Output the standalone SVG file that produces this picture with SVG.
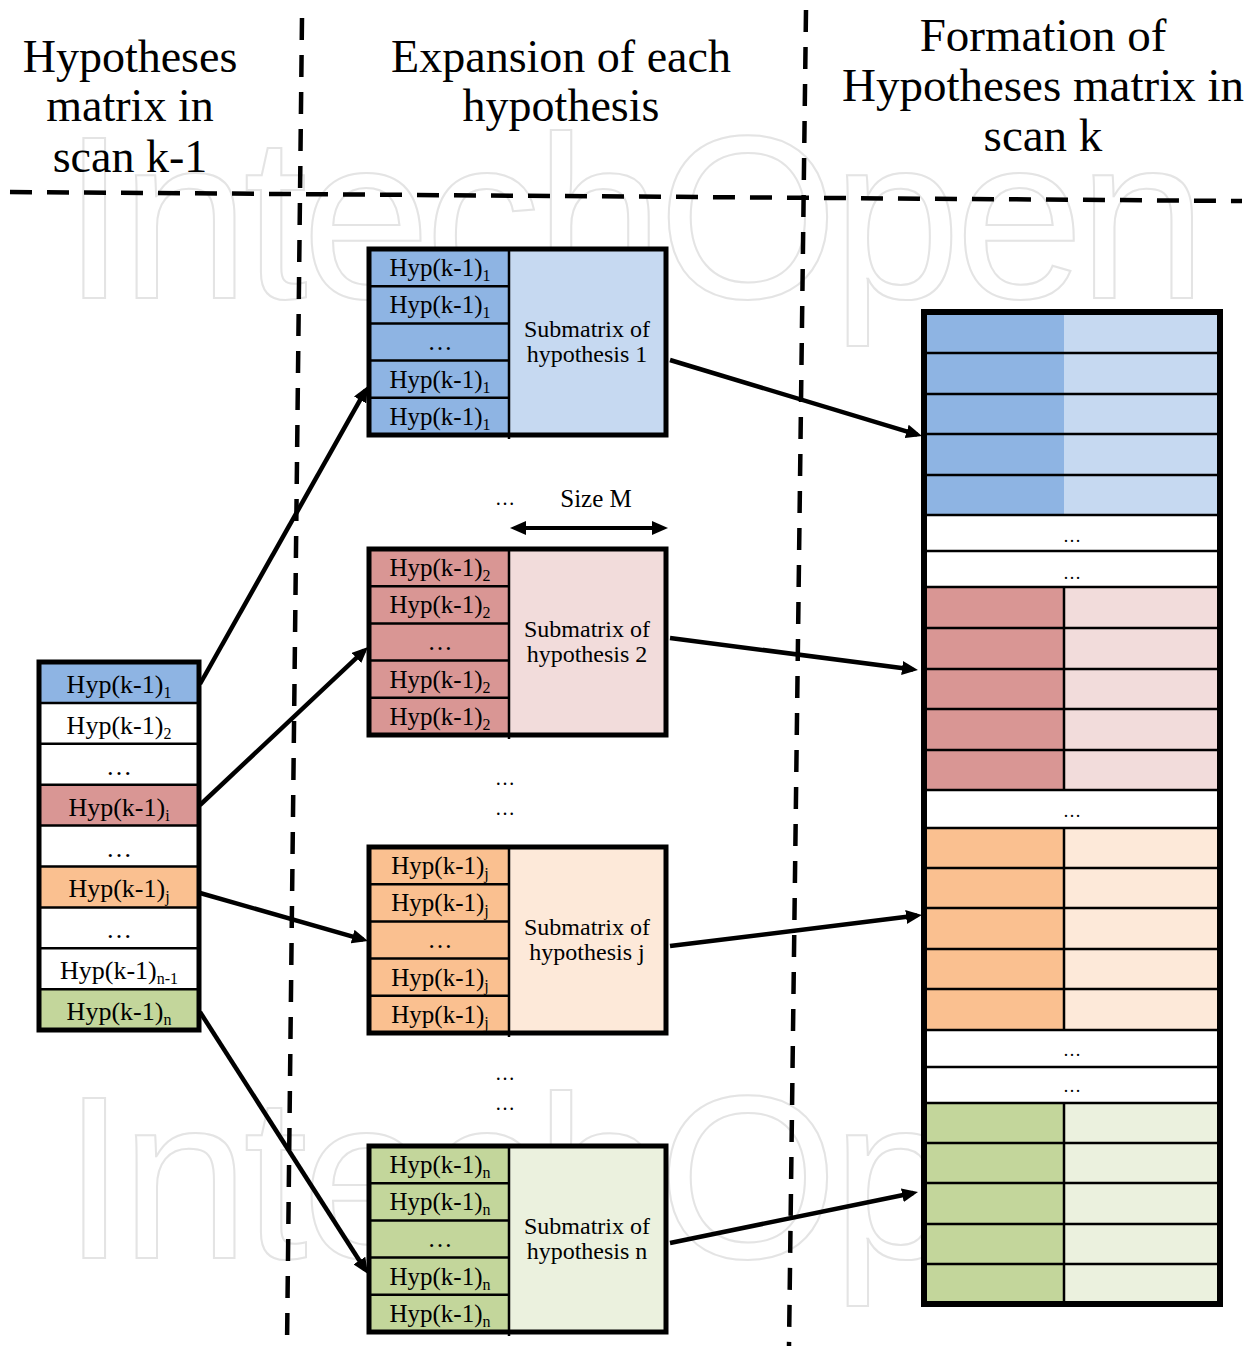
<svg xmlns="http://www.w3.org/2000/svg" width="1258" height="1346" viewBox="0 0 1258 1346">
<style>
.t{font-family:"Liberation Serif","Times New Roman",serif;fill:#000}
.hdr{font-size:46px;text-anchor:middle}
.cell{font-size:26px;text-anchor:middle}
.sub{font-size:16px}
.lbl{font-size:24px;text-anchor:middle}
.dots{font-size:20px;text-anchor:middle}
.rdots{font-size:18px;text-anchor:middle}
.border{fill:none;stroke:#000;stroke-width:5}
.grid{stroke:#000;stroke-width:2.5;fill:none}
.dash{stroke:#000;stroke-width:4.5;stroke-dasharray:22 15;fill:none}
.conn{stroke:#000;stroke-width:4.5;fill:none;marker-end:url(#ah)}
.wm{font-family:"Liberation Sans",Arial,sans-serif;font-size:232px;fill:none;stroke:#e4e4e4;stroke-width:2}
.b{fill:#8EB4E3}.lb{fill:#C6D9F1}
.p{fill:#D99694}.lp{fill:#F2DCDB}
.o{fill:#FAC090}.lo{fill:#FDE9D9}
.g{fill:#C3D69B}.lg{fill:#EBF1DE}
.w{fill:#fff}
</style>
<defs>
<marker id="ah" viewBox="0 0 16 14" markerUnits="userSpaceOnUse" markerWidth="16" markerHeight="14" refX="11" refY="7" orient="auto-start-reverse">
<path d="M0,0 L16,7 L0,14 z" fill="#000"/>
</marker>
</defs>
<rect width="1258" height="1346" fill="#fff"/>

<g id="watermark">
<text class="wm" x="62" y="298" textLength="1145" lengthAdjust="spacing">IntechOpen</text>
<text class="wm" x="62" y="1258" textLength="1145" lengthAdjust="spacing">IntechOpen</text>
</g>

<g id="headers" class="t hdr">
<text x="130" y="72">Hypotheses</text>
<text x="130" y="121">matrix in</text>
<text x="130" y="172">scan k-1</text>
<text x="561" y="72">Expansion of each</text>
<text x="561" y="121">hypothesis</text>
<text x="1043" y="51" style="font-size:47px">Formation of</text>
<text x="1043" y="101" style="font-size:47px">Hypotheses matrix in</text>
<text x="1043" y="151" style="font-size:47px">scan k</text>
</g>

<g id="dividers">
<line class="dash" x1="302" y1="18" x2="287" y2="1346"/>
<line class="dash" x1="806" y1="10" x2="789" y2="1346"/>
<line class="dash" x1="10" y1="192" x2="1242" y2="201"/>
</g>

<g id="node-prev-matrix">
<rect class="b" x="39" y="662" width="160" height="40.9"/>
<rect class="w" x="39" y="702.9" width="160" height="81.8"/>
<rect class="p" x="39" y="784.7" width="160" height="40.9"/>
<rect class="w" x="39" y="825.6" width="160" height="40.9"/>
<rect class="o" x="39" y="866.5" width="160" height="40.9"/>
<rect class="w" x="39" y="907.4" width="160" height="81.8"/>
<rect class="g" x="39" y="989.2" width="160" height="40.9"/>
<path class="grid" d="M39,702.9H199M39,743.8H199M39,784.7H199M39,825.6H199M39,866.5H199M39,907.4H199M39,948.3H199M39,989.2H199"/>
<rect class="border" x="39" y="662" width="160" height="368"/>
<g class="t cell">
<text x="119" y="693">Hyp(k-1)<tspan class="sub" dy="5">1</tspan></text>
<text x="119" y="734">Hyp(k-1)<tspan class="sub" dy="5">2</tspan></text>
<text x="119" y="775">…</text>
<text x="119" y="816">Hyp(k-1)<tspan class="sub" dy="5">i</tspan></text>
<text x="119" y="857">…</text>
<text x="119" y="897">Hyp(k-1)<tspan class="sub" dy="5">j</tspan></text>
<text x="119" y="938">…</text>
<text x="119" y="979">Hyp(k-1)<tspan class="sub" dy="5">n-1</tspan></text>
<text x="119" y="1020">Hyp(k-1)<tspan class="sub" dy="5">n</tspan></text>
</g>
</g>

<g id="node-sub1">
<rect class="b" x="369" y="249" width="140" height="186"/>
<rect class="lb" x="509" y="249" width="157" height="186"/>
<path class="grid" d="M369,286.2H509M369,323.4H509M369,360.6H509M369,397.8H509M509,249V439"/>
<rect class="border" x="369" y="249" width="297" height="186"/>
<g class="t cell" style="font-size:25px">
<text x="440" y="276">Hyp(k-1)<tspan class="sub" dy="5">1</tspan></text>
<text x="440" y="313">Hyp(k-1)<tspan class="sub" dy="5">1</tspan></text>
<text x="440" y="350">…</text>
<text x="440" y="388">Hyp(k-1)<tspan class="sub" dy="5">1</tspan></text>
<text x="440" y="425">Hyp(k-1)<tspan class="sub" dy="5">1</tspan></text>
</g>
<text class="t lbl" x="587" y="337">Submatrix of</text>
<text class="t lbl" x="587" y="362">hypothesis 1</text>
</g>

<g id="node-sub2">
<rect class="p" x="369" y="549" width="140" height="186"/>
<rect class="lp" x="509" y="549" width="157" height="186"/>
<path class="grid" d="M369,586.2H509M369,623.4H509M369,660.6H509M369,697.8H509M509,549V739"/>
<rect class="border" x="369" y="549" width="297" height="186"/>
<g class="t cell" style="font-size:25px">
<text x="440" y="576">Hyp(k-1)<tspan class="sub" dy="5">2</tspan></text>
<text x="440" y="613">Hyp(k-1)<tspan class="sub" dy="5">2</tspan></text>
<text x="440" y="650">…</text>
<text x="440" y="688">Hyp(k-1)<tspan class="sub" dy="5">2</tspan></text>
<text x="440" y="725">Hyp(k-1)<tspan class="sub" dy="5">2</tspan></text>
</g>
<text class="t lbl" x="587" y="637">Submatrix of</text>
<text class="t lbl" x="587" y="662">hypothesis 2</text>
</g>

<g id="node-sub3">
<rect class="o" x="369" y="847" width="140" height="186"/>
<rect class="lo" x="509" y="847" width="157" height="186"/>
<path class="grid" d="M369,884.2H509M369,921.4H509M369,958.6H509M369,995.8H509M509,847V1037"/>
<rect class="border" x="369" y="847" width="297" height="186"/>
<g class="t cell" style="font-size:25px">
<text x="440" y="874">Hyp(k-1)<tspan class="sub" dy="5">j</tspan></text>
<text x="440" y="911">Hyp(k-1)<tspan class="sub" dy="5">j</tspan></text>
<text x="440" y="948">…</text>
<text x="440" y="986">Hyp(k-1)<tspan class="sub" dy="5">j</tspan></text>
<text x="440" y="1023">Hyp(k-1)<tspan class="sub" dy="5">j</tspan></text>
</g>
<text class="t lbl" x="587" y="935">Submatrix of</text>
<text class="t lbl" x="587" y="960">hypothesis j</text>
</g>

<g id="node-sub4">
<rect class="g" x="369" y="1146" width="140" height="186"/>
<rect class="lg" x="509" y="1146" width="157" height="186"/>
<path class="grid" d="M369,1183.2H509M369,1220.4H509M369,1257.6H509M369,1294.8H509M509,1146V1336"/>
<rect class="border" x="369" y="1146" width="297" height="186"/>
<g class="t cell" style="font-size:25px">
<text x="440" y="1173">Hyp(k-1)<tspan class="sub" dy="5">n</tspan></text>
<text x="440" y="1210">Hyp(k-1)<tspan class="sub" dy="5">n</tspan></text>
<text x="440" y="1247">…</text>
<text x="440" y="1285">Hyp(k-1)<tspan class="sub" dy="5">n</tspan></text>
<text x="440" y="1322">Hyp(k-1)<tspan class="sub" dy="5">n</tspan></text>
</g>
<text class="t lbl" x="587" y="1234">Submatrix of</text>
<text class="t lbl" x="587" y="1259">hypothesis n</text>
</g>

<g id="middle-notes" class="t">
<text class="dots" x="505" y="505">…</text>
<text class="lbl" x="596" y="507" style="font-size:25px">Size M</text>
<text class="dots" x="505" y="785">…</text>
<text class="dots" x="505" y="815">…</text>
<text class="dots" x="505" y="1080">…</text>
<text class="dots" x="505" y="1110">…</text>
<line x1="515" y1="528" x2="663" y2="528" stroke="#000" stroke-width="4" marker-start="url(#ah)" marker-end="url(#ah)"/>
</g>

<g id="node-scan-k-matrix">
<rect class="b" x="927" y="312" width="137" height="203"/>
<rect class="lb" x="1064" y="312" width="153" height="203"/>
<rect class="w" x="927" y="515" width="290" height="72"/>
<rect class="p" x="927" y="587" width="137" height="203"/>
<rect class="lp" x="1064" y="587" width="153" height="203"/>
<rect class="w" x="927" y="790" width="290" height="38"/>
<rect class="o" x="927" y="828" width="137" height="202"/>
<rect class="lo" x="1064" y="828" width="153" height="202"/>
<rect class="w" x="927" y="1030" width="290" height="73"/>
<rect class="g" x="927" y="1103" width="137" height="201"/>
<rect class="lg" x="1064" y="1103" width="153" height="201"/>
<path class="grid" d="M927,353H1217M927,394H1217M927,434H1217M927,475H1217M927,515H1217M927,551H1217M927,587H1217M927,628H1217M927,669H1217M927,709H1217M927,750H1217M927,790H1217M927,828H1217M927,868H1217M927,908H1217M927,949H1217M927,989H1217M927,1030H1217M927,1067H1217M927,1103H1217M927,1143H1217M927,1183H1217M927,1224H1217M927,1264H1217M1064,587V790M1064,828V1030M1064,1103V1304"/>
<rect x="924" y="312" width="296" height="992" fill="none" stroke="#000" stroke-width="6"/>
<g class="t rdots">
<text x="1072" y="542">…</text>
<text x="1072" y="579">…</text>
<text x="1072" y="817">…</text>
<text x="1072" y="1056">…</text>
<text x="1072" y="1092">…</text>
</g>
</g>

<g id="connectors">
<line class="conn" x1="200" y1="684" x2="365.5" y2="390.4"/>
<line class="conn" x1="200" y1="805" x2="364.4" y2="650.4"/>
<line class="conn" x1="200" y1="893" x2="363.2" y2="939.6"/>
<line class="conn" x1="200" y1="1012" x2="365.3" y2="1269.8"/>
<line class="conn" x1="670" y1="360" x2="917.2" y2="434.6"/>
<line class="conn" x1="670" y1="638" x2="913" y2="669.4"/>
<line class="conn" x1="670" y1="946" x2="917" y2="915.6"/>
<line class="conn" x1="670" y1="1243" x2="913.1" y2="1193"/>
</g>
</svg>
